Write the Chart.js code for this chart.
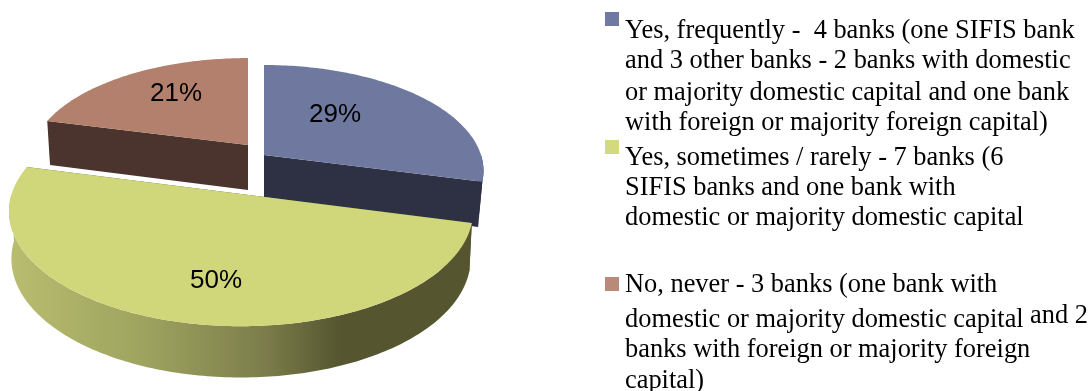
<!DOCTYPE html>
<html>
<head>
<meta charset="utf-8">
<title>Banks</title>
<script src="https://cdn.jsdelivr.net/npm/chart.js@4/dist/chart.umd.min.js"></script>
<style>
  html, body { margin: 0; padding: 0; background: #fff; overflow: hidden; }
  #wrap { position: relative; width: 1091px; height: 391px; }
  #pie { position: absolute; left: 0; top: 0; }
  .line {
    position: absolute; left: 625px; white-space: pre; color: #000;
    font: 26.4px/24px "Liberation Serif", serif;
  }
  .swatch { position: absolute; left: 605px; width: 14px; height: 14px; }
</style>
</head>
<body>
<div id="wrap">
  <canvas id="pie" width="1091" height="391"></canvas>
  <div id="legend"></div>
</div>
<script>
const categories = ['Yes, frequently', 'Yes, sometimes / rarely', 'No, never'];
const shares = [29, 50, 21];

const legendLines = [
  'Yes, frequently -  4 banks (one SIFIS bank',
  'and 3 other banks - 2 banks with domestic',
  'or majority domestic capital and one bank',
  'with foreign or majority foreign capital)',
  'Yes, sometimes / rarely - 7 banks (6',
  'SIFIS banks and one bank with',
  'domestic or majority domestic capital',
  'No, never - 3 banks (one bank with',
  'domestic or majority domestic capital',
  'banks with foreign or majority foreign',
  'capital)',
];
const legendBaselines = [38, 68, 100, 130, 165, 195, 225, 292, 327, 357, 388];

const topColors  = ['#6f79a0', '#d0d77a', '#b3806e'];
const sideColors = ['#2e3143', '#55552f', '#4a342d'];
const swatchColors = ['#7079a2', '#d3d97f', '#b98a77'];
const swatchTops = [12, 140, 277];

// Each slice is pulled out on its own, so it has its own centre and radii.
// bottom = the same slice seen at the foot of its wall.
const PERSPECTIVE = 0.15;
const slices = [
  { cx: 264, cy: 155, rx: 217,   ry: 103.5, bottom: { dy: 42, rx: 212.7, ry: 116 }, label: [335, 115] },
  { cx: 241, cy: 194, rx: 229.4, ry: 112.4, bottom: { dy: 47, rx: 227,   ry: 116 }, label: [216, 281] },
  { cx: 248, cy: 145, rx: 215,   ry: 100,   bottom: { dy: 45, rx: 212,   ry: 104 }, label: [176, 94] },
];

// circle coordinates -> screen, the near side of the pie is stretched
function project(c, rx, ry, dy, r, angle) {
  const x = r * Math.cos(angle);
  const y = r * Math.sin(angle);
  const w = 1 - PERSPECTIVE * y;
  return [c.cx + rx * x / w, c.cy + dy + ry * y / w];
}
const topPoint = (s, r, a) => project(s, s.rx, s.ry, 0, r, a);
const footPoint = (s, r, a) => project(s, s.bottom.rx, s.bottom.ry, s.bottom.dy, r, a);

function polygon(ctx, points, fill) {
  ctx.beginPath();
  points.forEach((p, i) => (i ? ctx.lineTo(p[0], p[1]) : ctx.moveTo(p[0], p[1])));
  ctx.closePath();
  ctx.fillStyle = fill;
  ctx.fill();
}

function rimAngles(a0, a1) {
  const out = [];
  const steps = Math.max(2, Math.ceil((a1 - a0) * 60));
  for (let i = 0; i <= steps; i++) out.push(a0 + (a1 - a0) * i / steps);
  return out;
}

// Outer wall of a slice, only the part facing the viewer (sin > 0)
function drawWall(ctx, s, a0, a1, fill) {
  const from = Math.max(a0, 0);
  const to = Math.min(a1, Math.PI);
  if (to <= from) return;
  const angles = rimAngles(from, to);
  const pts = angles.map(a => topPoint(s, 1, a))
    .concat(angles.slice().reverse().map(a => footPoint(s, 1, a)));
  polygon(ctx, pts, fill);
}

function drawCut(ctx, s, angle, fill) {
  polygon(ctx, [topPoint(s, 0, angle), topPoint(s, 1, angle),
                footPoint(s, 1, angle), footPoint(s, 0, angle)], fill);
}

const pie3d = {
  id: 'pie3d',
  beforeDatasetDraw(chart, args) {
    const ctx = chart.ctx;
    const arcs = args.meta.data;
    // back slices first, the big front slice goes on top of them
    [2, 0, 1].forEach(i => {
      const s = slices[i];
      const a0 = arcs[i].startAngle;
      const a1 = arcs[i].endAngle;
      let wall = sideColors[i];
      if (i === 1) {
        wall = ctx.createLinearGradient(10, 0, 470, 0);
        wall.addColorStop(0, '#b8bd70');
        wall.addColorStop(0.3, '#9da25e');
        wall.addColorStop(0.55, '#7c7e4b');
        wall.addColorStop(0.72, '#55552f');
        wall.addColorStop(1, '#55552f');
      }
      drawCut(ctx, s, a0, sideColors[i]);
      drawCut(ctx, s, a1, sideColors[i]);
      drawWall(ctx, s, a0, a1, wall);
      const rim = rimAngles(a0, a1).map(a => topPoint(s, 1, a));
      polygon(ctx, [topPoint(s, 0, a0)].concat(rim), topColors[i]);
    });
    return false;
  },
  afterDatasetsDraw(chart) {
    const ctx = chart.ctx;
    ctx.save();
    ctx.fillStyle = '#000';
    ctx.font = '26px "Liberation Sans", Arial, sans-serif';
    ctx.textAlign = 'center';
    ctx.textBaseline = 'middle';
    shares.forEach((v, i) => ctx.fillText(v + '%', slices[i].label[0], slices[i].label[1]));
    ctx.restore();
  },
};

new Chart(document.getElementById('pie'), {
  type: 'pie',
  data: {
    labels: categories,
    datasets: [{ data: shares, backgroundColor: topColors, borderWidth: 0 }],
  },
  options: {
    responsive: false,
    animation: false,
    plugins: { legend: { display: false }, tooltip: { enabled: false } },
  },
  plugins: [pie3d],
});

// Legend on the right: hand broken lines, as in the report
const legend = document.getElementById('legend');
legendLines.forEach((text, i) => {
  const el = document.createElement('div');
  el.className = 'line';
  el.textContent = text;
  el.style.top = (legendBaselines[i] - 21) + 'px';
  legend.appendChild(el);
});
// the "and 2" sits a little higher than its line
const extra = document.createElement('div');
extra.className = 'line';
extra.textContent = 'and 2';
extra.style.left = '1030px';
extra.style.top = '302px';
legend.appendChild(extra);

swatchTops.forEach((top, i) => {
  const el = document.createElement('div');
  el.className = 'swatch';
  el.style.top = top + 'px';
  el.style.background = swatchColors[i];
  legend.appendChild(el);
});
</script>
</body>
</html>
